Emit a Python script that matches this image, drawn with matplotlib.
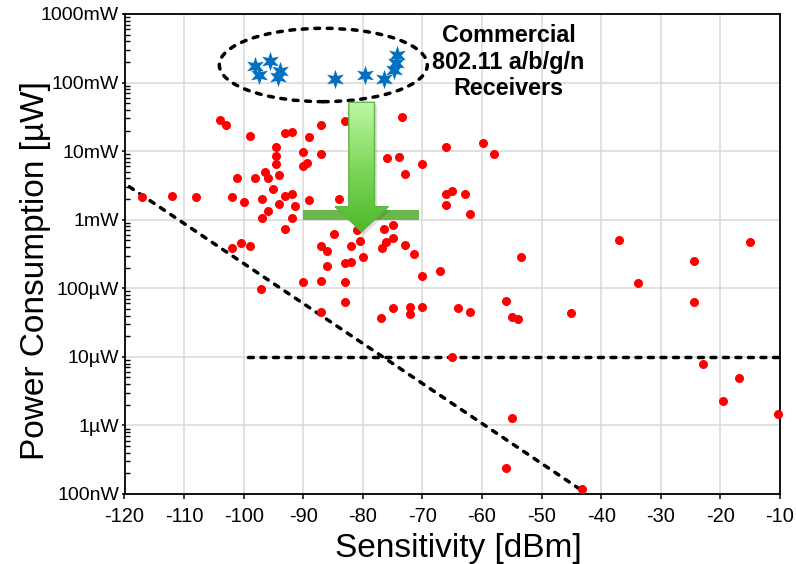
import numpy as np
import matplotlib
matplotlib.use('Agg')
import matplotlib.pyplot as plt
from matplotlib.path import Path
from matplotlib.patches import Ellipse, Polygon, Rectangle
from matplotlib.colors import LinearSegmentedColormap
from matplotlib.ticker import FixedLocator, NullFormatter

plt.rcParams['font.family'] = ['Liberation Sans', 'DejaVu Sans']
plt.rcParams['axes.unicode_minus'] = False

# ---------------- data ----------------
research_sens = [
    -104.0, -103.0, -98.9, -93.1, -91.9, -89.1, -94.5, -94.5, -94.5, -90.0,
    -87.0, -90.0, -89.3, -96.5, -95.9, -94.0, -101.1, -98.1, -95.0, -117.0,
    -112.0, -108.0, -102.0, -100.0, -97.0, -93.1, -91.9, -94.0, -91.4, -89.1,
    -95.9, -97.0, -91.9, -93.1, -87.0, -102.0, -100.4, -98.9, -87.0, -83.0,
    -73.4, -75.9, -74.0, -73.0, -70.0, -66.1, -59.9, -58.0, -84.0, -84.9,
    -86.0, -82.0, -80.5, -81.0, -76.4, -75.0, -74.9, -76.1, -76.8, -73.0,
    -71.5, -79.9, -82.0, -83.0, -86.0, -66.1, -65.0, -62.9, -66.1, -62.0,
    -70.0, -67.0, -53.5, -90.0, -87.0, -83.0, -97.1, -83.0, -87.0, -76.9,
    -75.0, -72.1, -72.1, -70.0, -64.1, -62.0, -56.0, -65.1, -37.0, -33.9,
    -24.5, -15.0, -55.0, -54.0, -45.0, -24.5, -22.9, -16.9, -19.5, -10.4,
    -54.9, -56.0, -43.2,
]
research_power_uw = [
    28400, 24000, 16800, 18200, 19000, 16200, 11600, 8590, 6490, 9710,
    9080, 6070, 6650, 4910, 4020, 4490, 4100, 4020, 2780, 2140,
    2240, 2170, 2140, 1810, 2020, 2220, 2410, 1710, 1600, 1940,
    1330, 1070, 1060, 724, 418, 383, 457, 409, 24300, 27800,
    31150, 7870, 8220, 4640, 6490, 11600, 13300, 9080, 1990, 612,
    350, 418, 494, 719, 733, 837, 547, 478, 383, 428,
    314, 283, 244, 230, 213, 2410, 2650, 2410, 1640, 1200,
    151, 179, 289, 122, 128, 122, 97.5, 63.7, 45.8, 36.5,
    51.1, 52.8, 41.8, 52.8, 51.1, 45.5, 65.2, 10.0, 501, 121,
    250, 478, 38.5, 35.6, 44.1, 62.5, 7.94, 4.97, 2.29, 1.47,
    1.30, 0.239, 0.117,
]
commercial_sens = [-98.1, -97.4, -95.6, -93.9, -94.2, -84.7, -79.65, -76.5, -74.3, -74.4, -74.8]
commercial_power_uw = [176000, 129000, 208000, 149000, 119000, 113000, 129000, 113000, 252000, 191000, 152000]

trend_sens = [-119.2, -43.6]
trend_power_uw = [3030, 0.118]
floor_sens = [-99.3, -10]
floor_power_uw = [10, 10]

x_ticks = [-120, -110, -100, -90, -80, -70, -60, -50, -40, -30, -20, -10]
y_ticks_uw = [0.1, 1, 10, 100, 1e3, 1e4, 1e5, 1e6]
y_tick_labels = ['100nW', '1µW', '10µW', '100µW', '1mW', '10mW', '100mW', '1000mW']

# ---------------- figure ----------------
fig = plt.figure(figsize=(7.96, 5.64), dpi=100)
rect = [124.5 / 796, 1 - 494 / 564, 655.5 / 796, 480 / 564]
ax = fig.add_axes(rect)
ax.set_yscale('log')
ax.set_xlim(-120, -10)
ax.set_ylim(0.1, 1e6)

ax.xaxis.set_major_locator(FixedLocator(x_ticks))
ax.set_xticklabels([str(t) for t in x_ticks], fontsize=14.4)
ax.yaxis.set_major_locator(FixedLocator(y_ticks_uw))
ax.set_yticklabels(y_tick_labels, fontsize=14)
minor = [m * 10.0 ** e for e in range(-1, 6) for m in range(2, 10)]
ax.yaxis.set_minor_locator(FixedLocator(minor))
ax.yaxis.set_minor_formatter(NullFormatter())
ax.tick_params(axis='x', which='major', direction='out', length=3.6, width=1.1, pad=6)
ax.tick_params(axis='y', which='major', direction='out', length=2.5, width=1.1, pad=1.5)
ax.tick_params(axis='y', which='minor', direction='in', length=3.6, width=1.0)
ax.tick_params(axis='x', which='minor', bottom=False)

ax.grid(True, which='major', color='#d9d9d9', linewidth=1.1)
ax.set_axisbelow(True)
for s in ax.spines.values():
    s.set_linewidth(1.3)
    s.set_color('black')

dash = (0, (1.4, 2.2))
ax.plot(trend_sens, trend_power_uw, color='black', lw=2.5, ls=dash,
        dash_capstyle='round', zorder=3)
ax.plot(floor_sens, floor_power_uw, color='black', lw=2.5, ls=dash,
        dash_capstyle='round', zorder=3)

ax.plot(research_sens, research_power_uw, 'o', color='#ff0000', ms=6.5,
        mec='#ff0000', mew=0, zorder=4, clip_on=False)

n = 6
idx = np.arange(2 * n)
ang = np.pi / 2 + idx * np.pi / n
rad = np.where(idx % 2 == 0, 1.0, 0.42)
verts = np.column_stack([rad * np.cos(ang), rad * np.sin(ang)])
star = Path(np.vstack([verts, verts[:1]]), closed=True)
ax.plot(commercial_sens, commercial_power_uw, ls='none', marker=star,
        color='#0070c0', ms=14, mew=0, zorder=5)

ax.set_xlabel('Sensitivity [dBm]', fontsize=24, va='center')
ax.xaxis.set_label_coords(0.5088, -0.1125)
ax.set_ylabel('Power Consumption [µW]', fontsize=24, va='center')
ax.yaxis.set_label_coords(-0.1365, 0.4646)

# ---------------- annotation overlay ----------------
ov = fig.add_axes(rect, zorder=5)
ov.set_xlim(0, 1)
ov.set_ylim(0, 1)
ov.axis('off')
ov.patch.set_alpha(0)

ov.add_patch(Ellipse((0.3033, 0.8938), 0.3173, 0.1529, fill=False, ec='black',
                     lw=2.5, ls=dash, capstyle='round'))

ov.add_patch(Rectangle((0.2719, 0.5708), 0.1778, 0.0209, fc='#6ab84b', ec='none', zorder=1))

c = 0.3618
hws, hwh = 0.0196, 0.0407
top, hy, tip = 0.816, 0.5985, 0.5465
arrow_verts = [(c - hws, top), (c + hws, top), (c + hws, hy), (c + hwh, hy),
               (c, tip), (c - hwh, hy), (c - hws, hy)]
shadow = Polygon([(x + 0.004, y - 0.006) for x, y in arrow_verts], closed=True,
                 fc='#000000', alpha=0.12, ec='none', zorder=1.5)
ov.add_patch(shadow)
poly = Polygon(arrow_verts, closed=True, fc='none', ec='#62b345', lw=1.0, zorder=3)
ov.add_patch(poly)
cmap = LinearSegmentedColormap.from_list('g', ['#4cb82a', '#7fd85a', '#bdf7a6'])
grad = np.linspace(0, 1, 256).reshape(-1, 1)
im = ov.imshow(grad, extent=[c - hwh, c + hwh, tip, top], origin='lower',
               aspect='auto', cmap=cmap, zorder=2)
im.set_clip_path(poly)
ov.set_xlim(0, 1)
ov.set_ylim(0, 1)

ov.text(0.586, 0.9, 'Commercial\n802.11 a/b/g/n\nReceivers', ha='center', va='center',
        fontsize=16.8, fontweight='bold', linespacing=1.2, color='black')

fig.savefig('out.png', dpi=100)
